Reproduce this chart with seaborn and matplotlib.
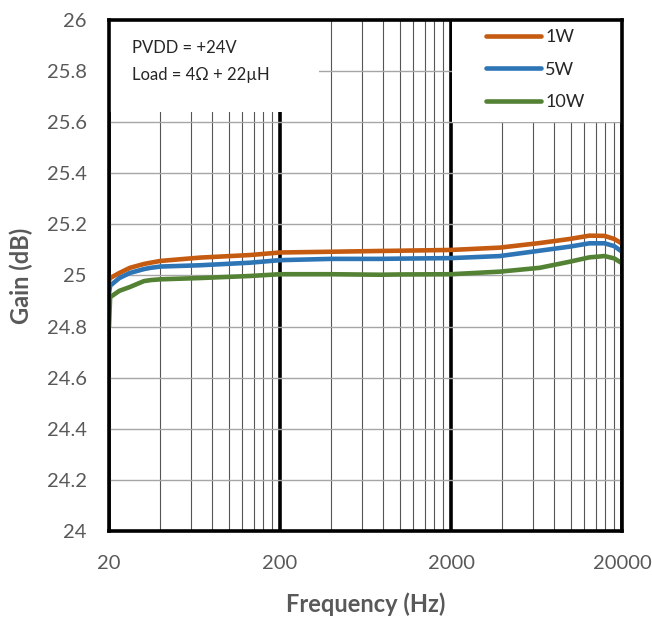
import numpy as np
import pandas as pd
import matplotlib
matplotlib.use("Agg")
import matplotlib.pyplot as plt
from matplotlib.ticker import FixedLocator, NullFormatter
from matplotlib.patches import Rectangle
import seaborn as sns

freq = [20, 20.3, 23, 26.5, 32, 35, 40, 68, 133, 200, 400, 766, 1000, 2000,
        3850, 6600, 9900, 12900, 15800, 18000, 20000]
gain_1w = [24.98, 24.99, 25.01, 25.03, 25.045, 25.05, 25.057, 25.07, 25.08, 25.09,
           25.093, 25.096, 25.097, 25.10, 25.109, 25.127, 25.143, 25.156, 25.155,
           25.143, 25.125]
gain_5w = [24.93, 24.96, 24.99, 25.01, 25.025, 25.03, 25.035, 25.04, 25.05, 25.06,
           25.065, 25.065, 25.066, 25.068, 25.076, 25.097, 25.113, 25.126, 25.126,
           25.115, 25.093]
gain_10w = [24.80, 24.915, 24.94, 24.955, 24.978, 24.982, 24.985, 24.99, 24.998, 25.005,
            25.005, 25.003, 25.004, 25.005, 25.015, 25.03, 25.054, 25.071, 25.076,
            25.067, 25.048]
series_names = ["1W", "5W", "10W"]
colors = ["#C55A11", "#2E75B6", "#548235"]
x_ticks = [20, 200, 2000, 20000]
y_ticks = [24, 24.2, 24.4, 24.6, 24.8, 25, 25.2, 25.4, 25.6, 25.8, 26]
y_tick_labels = ["24", "24.2", "24.4", "24.6", "24.8", "25", "25.2", "25.4", "25.6", "25.8", "26"]

df = pd.concat([
    pd.DataFrame({"Frequency": freq, "Gain": g, "Power": n})
    for g, n in zip([gain_1w, gain_5w, gain_10w], series_names)
])

sns.set_style("white")
plt.rcParams["font.family"] = ["Lato", "DejaVu Sans"]

fig = plt.figure(figsize=(6.52, 6.17), dpi=100)
ax = fig.add_axes([0.1672, 0.1394, 0.954 - 0.1672, 0.9676 - 0.1394])

sns.lineplot(data=df, x="Frequency", y="Gain", hue="Power", palette=colors,
             hue_order=series_names, linewidth=3.3, ax=ax, zorder=3, legend=True)

ax.set_xscale("log")
ax.set_xlim(20, 20000)
ax.set_ylim(24, 26)
ax.xaxis.set_major_locator(FixedLocator(x_ticks))
ax.set_xticklabels([str(t) for t in x_ticks])
minors = [20 * 10 ** n * k for n in range(3) for k in range(2, 10)]
ax.xaxis.set_minor_locator(FixedLocator(minors))
ax.xaxis.set_minor_formatter(NullFormatter())
ax.set_yticks(y_ticks)
ax.set_yticklabels(y_tick_labels)

ax.set_axisbelow(True)
ax.grid(False)
ax.xaxis.grid(True, which="major", color="black", linewidth=2.6)
ax.xaxis.grid(True, which="minor", color="#555555", linewidth=0.8)
ax.yaxis.grid(True, which="major", color="#a6a6a6", linewidth=1.0)

ax.tick_params(axis="both", which="both", length=0, labelsize=14.5, labelcolor="#595959")
ax.tick_params(axis="y", pad=16)
ax.tick_params(axis="x", pad=17)

for s in ax.spines.values():
    s.set_visible(True)
    s.set_color("black")
    s.set_linewidth(2.6)
    s.set_zorder(4)

ax.set_xlabel("Frequency (Hz)", fontsize=17, fontweight="bold", color="#595959", labelpad=15)
ax.set_ylabel("Gain (dB)", fontsize=17, fontweight="bold", color="#595959", labelpad=10)

# white annotation box
ax.add_patch(Rectangle((0, 0.82), 0.41, 0.18, transform=ax.transAxes,
                       facecolor="white", edgecolor="none", zorder=1))
ax.text(0.045, 0.945, "PVDD = +24V", transform=ax.transAxes, fontsize=12,
        va="center", ha="left", zorder=4)
ax.text(0.045, 0.893, "Load = 4Ω + 22µH", transform=ax.transAxes, fontsize=12,
        va="center", ha="left", zorder=4)

# white legend background
ax.add_patch(Rectangle((0.669, 0.80), 0.331, 0.20, transform=ax.transAxes,
                       facecolor="white", edgecolor="none", zorder=1))
leg = ax.legend(loc="upper left", bbox_to_anchor=(0.735, 0.982), frameon=False,
                fontsize=13, handlelength=3.05, handletextpad=0.22,
                labelspacing=0.92, borderpad=0.0, borderaxespad=0.0)
leg.set_title(None)
for h in leg.get_lines():
    h.set_linewidth(3.3)

fig.savefig("out.png", dpi=100)
